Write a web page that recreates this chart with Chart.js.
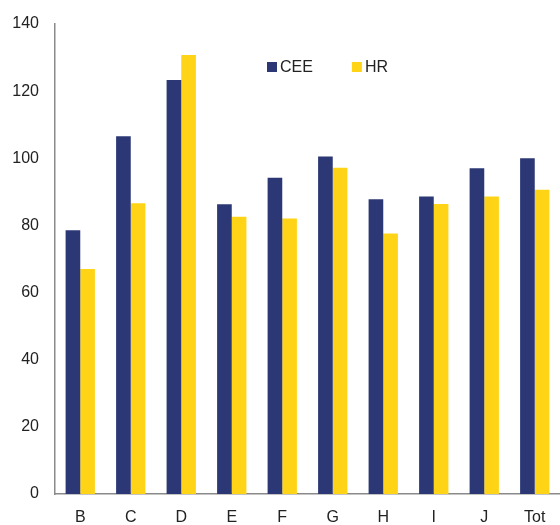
<!DOCTYPE html>
<html lang="en">
<head>
    <meta charset="UTF-8">
    <title>CEE vs HR</title>
    <script src="https://cdn.jsdelivr.net/npm/chart.js"></script>
    <style>
        html, body { margin: 0; padding: 0; background: #fff; }
        #wrap { width: 560px; height: 525px; }
    </style>
</head>
<body>
    <div id="wrap"><canvas id="barChart" width="560" height="525"></canvas></div>

    <script>
        // data
        const categories = ['B', 'C', 'D', 'E', 'F', 'G', 'H', 'I', 'J', 'Tot'];
        const ceeValues = [78.6, 106.6, 123.3, 86.3, 94.2, 100.5, 87.8, 88.6, 97.0, 100.0];
        const hrValues = [67.0, 86.6, 130.8, 82.6, 82.1, 97.2, 77.6, 86.4, 88.6, 90.6];
        const yTicks = [0, 20, 40, 60, 80, 100, 120, 140];

        const blue = '#2c3775';
        const yellow = '#ffd416';
        const axisGrey = '#8a8a8a';
        const textColor = '#222222';
        const fontFamily = '"Liberation Sans", Arial, sans-serif';

        Chart.defaults.font.family = fontFamily;
        Chart.defaults.font.size = 16;
        Chart.defaults.color = textColor;

        // legend sits inside the plot, upper middle
        const innerLegend = {
            id: 'innerLegend',
            afterDraw(chart) {
                const c = chart.ctx;
                let x = 267;
                const y = 67;
                c.save();
                c.font = '16px ' + fontFamily;
                c.textBaseline = 'middle';
                c.textAlign = 'left';
                chart.data.datasets.forEach(ds => {
                    c.fillStyle = ds.backgroundColor;
                    c.fillRect(x, y - 5, 10, 10);
                    c.fillStyle = textColor;
                    c.fillText(ds.label, x + 13, y + 1);
                    x += 13 + c.measureText(ds.label).width + 39;
                });
                c.restore();
            }
        };

        let ctx = document.getElementById('barChart').getContext('2d');
        let barChart = new Chart(ctx, {
            type: 'bar',
            data: {
                labels: categories,
                datasets: [{
                    label: 'CEE',
                    data: ceeValues,
                    backgroundColor: blue,
                    categoryPercentage: 0.58,
                    barPercentage: 1.0
                }, {
                    label: 'HR',
                    data: hrValues,
                    backgroundColor: yellow,
                    categoryPercentage: 0.58,
                    barPercentage: 1.0
                }]
            },
            options: {
                responsive: false,
                animation: false,
                layout: { padding: { top: 24, right: 0, bottom: 0, left: 0 } },
                plugins: {
                    legend: { display: false },
                    tooltip: { enabled: false }
                },
                scales: {
                    x: {
                        offset: true,
                        grid: { display: false },
                        border: { display: true, color: axisGrey, width: 1.5 },
                        ticks: { padding: 6, color: textColor, font: { size: 16 } },
                        afterFit(scale) { scale.height = 31; }
                    },
                    y: {
                        min: 0,
                        max: 140,
                        afterBuildTicks(scale) {
                            scale.ticks = yTicks.map(v => ({ value: v }));
                        },
                        grid: { display: false },
                        border: { display: true, color: axisGrey, width: 1.5 },
                        ticks: { padding: 8, color: textColor, font: { size: 16 } },
                        afterFit(scale) { scale.width = 55; }
                    }
                }
            },
            plugins: [innerLegend]
        });
    </script>
</body>
</html>
